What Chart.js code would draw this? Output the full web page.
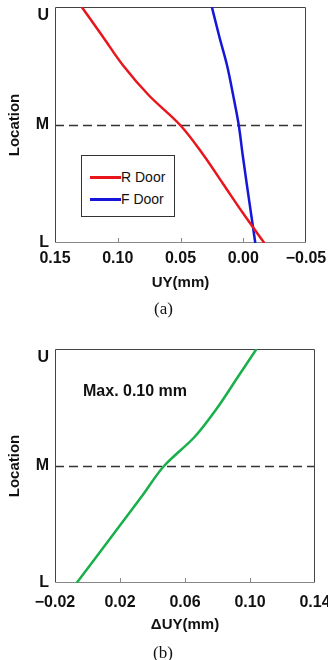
<!DOCTYPE html>
<html>
<head>
<meta charset="utf-8">
<script src="https://cdn.jsdelivr.net/npm/chart.js@4.4.1/dist/chart.umd.min.js"></script>
<style>
html,body{margin:0;padding:0;background:#fff;width:328px;height:660px;overflow:hidden;}
.wrap{position:absolute;left:0;width:328px;height:300px;}
#wa{top:0;}
#wb{top:340px;}
.cap{position:absolute;font-family:"Liberation Serif","Times New Roman",serif;font-size:17px;line-height:17px;color:#111;transform:translate(-50%,-50%);white-space:nowrap;}
#legA{position:absolute;left:81px;top:155px;width:92px;height:60px;border:1px solid #333;background:#fff;font-family:"Liberation Sans",Arial,sans-serif;font-size:14px;color:#111;}
.sw{position:absolute;left:8px;width:31px;height:3px;}
.lt{position:absolute;left:39px;line-height:14px;white-space:nowrap;}
#maxB{position:absolute;left:83px;top:383px;font:bold 16px "Liberation Sans",Arial,sans-serif;line-height:16px;color:#111;white-space:nowrap;}
</style>
</head>
<body>
<div class="wrap" id="wa"><canvas id="ca"></canvas></div>
<div id="legA"></div>
<div class="cap" style="left:163.5px;top:308px;">(a)</div>
<div class="wrap" id="wb"><canvas id="cb"></canvas></div>
<div id="maxB">Max. 0.10 mm</div>
<div class="cap" style="left:163px;top:652px;">(b)</div>
<script>
// ---- data ----
const locTicks = [0, 1, 2];
const locTickLabels = ['L', 'M', 'U'];
const locations = [0, 0.25, 0.5, 0.75, 1, 1.25, 1.5, 1.75, 2];
const rDoor = [-0.0168, 0.0, 0.016, 0.032, 0.0503, 0.0751, 0.0954, 0.112, 0.1287];
const fDoor = [-0.0096, -0.0062, -0.0028, 0.0005, 0.0036, 0.0080, 0.0128, 0.0191, 0.025];
const deltaUY = [-0.0067, 0.0069, 0.0204, 0.0339, 0.0471, 0.066, 0.080, 0.092, 0.104];
const xTicksA = [-0.05, 0.00, 0.05, 0.10, 0.15];
const xTicksB = [-0.02, 0.02, 0.06, 0.10, 0.14];
const seriesLabelsA = ['R Door', 'F Door'];
const axisTitleA = 'UY(mm)';
const axisTitleB = '\u0394UY(mm)';
const yTitle = 'Location';

Chart.defaults.font.family = '"Liberation Sans", Arial, sans-serif';
Chart.defaults.color = '#111';

const pts = vals => locations.map((l, i) => ({x: vals[i], y: l}));
const fmt = v => (Math.abs(v) < 1e-9 ? 0 : v).toFixed(2).replace('-', '\u2212');
// top label sits half a line below its tick, as in the original
const locLabel = v => {
  const i = locTicks.indexOf(v);
  const t = locTickLabels[i];
  return i === locTicks.length - 1 ? ['', t] : t;
};

const frame = {
  id: 'frame',
  beforeDatasetsDraw(chart) {
    const {ctx, chartArea: a, scales: {x, y}} = chart;
    ctx.save();
    // dashed reference line at M
    const yM = Math.round(y.getPixelForValue(locTicks[1])) + 0.5;
    ctx.strokeStyle = '#333';
    ctx.lineWidth = 1.3;
    ctx.setLineDash([9, 5]);
    ctx.beginPath(); ctx.moveTo(a.left, yM); ctx.lineTo(a.right, yM); ctx.stroke();
    ctx.setLineDash([]);
    // inner tick marks on the x axis
    ctx.strokeStyle = '#888';
    ctx.lineWidth = 1;
    x.ticks.forEach((t, i) => {
      if (i === 0 || i === x.ticks.length - 1) return;
      const px = Math.round(x.getPixelForValue(t.value)) + 0.5;
      ctx.beginPath(); ctx.moveTo(px, a.bottom); ctx.lineTo(px, a.bottom - 5); ctx.stroke();
    });
    // frame box
    const L = Math.round(a.left) + 0.5, R = Math.round(a.right) - 0.5;
    const T = Math.round(a.top) + 0.5, B = Math.round(a.bottom) - 0.5;
    ctx.strokeStyle = '#444';
    ctx.beginPath(); ctx.moveTo(L, B); ctx.lineTo(L, T); ctx.lineTo(R, T); ctx.lineTo(R, B); ctx.stroke();
    ctx.strokeStyle = '#888';
    ctx.beginPath(); ctx.moveTo(L, B); ctx.lineTo(R, B); ctx.stroke();
    ctx.restore();
  }
};

function makeOptions(o) {
  return {
    responsive: true,
    maintainAspectRatio: false,
    animation: false,
    indexAxis: 'y',
    layout: {padding: {left: 0, right: o.padRight, top: o.padTop, bottom: 0}},
    elements: {point: {radius: 0}, line: {cubicInterpolationMode: 'monotone', borderWidth: 2.5}},
    plugins: {legend: {display: false}, tooltip: {enabled: false}},
    scales: {
      x: {
        type: 'linear', position: 'bottom', reverse: o.reverse, min: o.min, max: o.max,
        afterBuildTicks: s => { s.ticks = o.ticks.map(v => ({value: v})); },
        ticks: {padding: o.tickPad, autoSkip: false, maxRotation: 0, color: '#111',
                font: {size: 16, weight: 'bold'}, callback: v => fmt(v)},
        grid: {display: false, drawTicks: false},
        border: {display: false},
        title: {display: true, text: o.title, color: '#111', font: {size: 15, weight: 'bold'},
                padding: {top: 0, bottom: o.titlePad}},
        afterFit: s => { s.height = 57; s.paddingLeft = 0; s.paddingRight = 0; }
      },
      y: {
        type: 'linear', position: 'left', min: locTicks[0], max: locTicks[locTicks.length - 1],
        afterBuildTicks: s => { s.ticks = locTicks.map(v => ({value: v})); },
        ticks: {padding: 6, color: '#111', font: {size: 16, weight: 'bold', lineHeight: 1.1},
                callback: v => locLabel(v)},
        grid: {display: false, drawTicks: false},
        border: {display: false},
        title: {display: true, text: yTitle, color: '#111', font: {size: 15, weight: 'bold'},
                padding: {top: 6, bottom: 0}},
        afterFit: s => { s.width = 55; s.paddingTop = 0; s.paddingBottom = 0; }
      }
    }
  };
}

const chartA = new Chart(document.getElementById('ca'), {
  type: 'line',
  data: {datasets: [
    {label: seriesLabelsA[0], data: pts(rDoor), borderColor: '#e8161c', backgroundColor: '#e8161c'},
    {label: seriesLabelsA[1], data: pts(fDoor), borderColor: '#1616d8', backgroundColor: '#1616d8'}
  ]},
  options: makeOptions({reverse: true, min: xTicksA[0], max: xTicksA[xTicksA.length - 1], ticks: xTicksA,
                        tickPad: 6, title: axisTitleA, titlePad: 8, padRight: 22, padTop: 7}),
  plugins: [frame]
});

const chartB = new Chart(document.getElementById('cb'), {
  type: 'line',
  data: {datasets: [
    {label: axisTitleB, data: pts(deltaUY), borderColor: '#18b04a', backgroundColor: '#18b04a'}
  ]},
  options: makeOptions({reverse: false, min: xTicksB[0], max: xTicksB[xTicksB.length - 1], ticks: xTicksB,
                        tickPad: 10, title: axisTitleB, titlePad: 6, padRight: 13, padTop: 9}),
  plugins: [frame]
});

// HTML legend for chart (a), built from the chart's datasets
const leg = document.getElementById('legA');
chartA.data.datasets.forEach((ds, i) => {
  const cy = 21 + i * 22;
  const sw = document.createElement('div');
  sw.className = 'sw'; sw.style.top = (cy - 1.5) + 'px'; sw.style.background = ds.borderColor;
  const tx = document.createElement('div');
  tx.className = 'lt'; tx.style.top = (cy - 7) + 'px'; tx.textContent = ds.label;
  leg.appendChild(sw); leg.appendChild(tx);
});
</script>
</body>
</html>
